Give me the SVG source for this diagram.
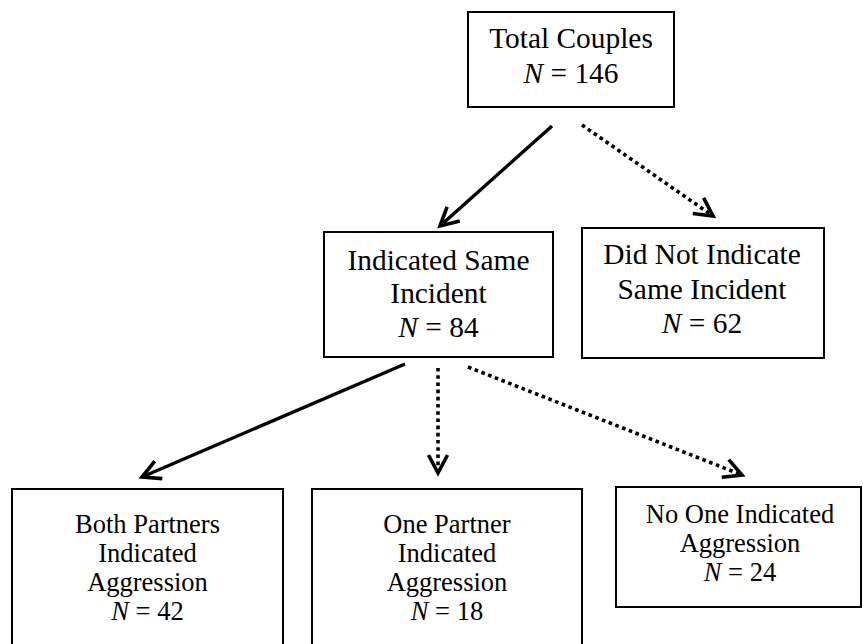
<svg xmlns="http://www.w3.org/2000/svg" width="863" height="644" viewBox="0 0 863 644">
<style>
.box{fill:#fff;stroke:#000;stroke-width:2}
.t{font-family:"Liberation Serif","Times New Roman",serif;font-size:29.4px;fill:#000;text-anchor:middle}
.b{font-family:"Liberation Serif","Times New Roman",serif;font-size:26.5px;fill:#000;text-anchor:middle}
.solid{fill:none;stroke:#000;stroke-width:3.4}
.dot{fill:none;stroke:#000;stroke-width:3.6;stroke-dasharray:3.6 3.6}
</style>
<defs>
<marker id="ah" markerUnits="userSpaceOnUse" viewBox="-22 -13 26 26" refX="0" refY="0" markerWidth="26" markerHeight="26" orient="auto" overflow="visible">
<path d="M-18,-9.5 L0,0 L-18,9.5" fill="none" stroke="#000" stroke-width="3.6" stroke-dasharray="none" stroke-linejoin="miter"/>
</marker>
</defs>
<rect width="863" height="644" fill="#fff"/>
<g id="connectors">
<line class="solid" x1="552" y1="126" x2="440" y2="226" marker-end="url(#ah)"/>
<line class="dot" x1="582" y1="125" x2="713" y2="216" marker-end="url(#ah)"/>
<line class="solid" x1="405" y1="364" x2="142" y2="477" marker-end="url(#ah)"/>
<line class="dot" x1="438" y1="368" x2="438" y2="473" marker-end="url(#ah)"/>
<line class="dot" x1="468" y1="367" x2="742" y2="475" marker-end="url(#ah)"/>
</g>
<g id="total">
<rect class="box" x="468" y="12" width="206" height="95"/>
<text class="t" x="571" y="48">Total Couples</text>
<text class="t" x="571" y="83"><tspan font-style="italic">N</tspan> = 146</text>
</g>
<g id="same">
<rect class="box" x="324" y="232" width="229" height="125"/>
<text class="t" x="438.5" y="270">Indicated Same</text>
<text class="t" x="438.5" y="303">Incident</text>
<text class="t" x="438.5" y="337"><tspan font-style="italic">N</tspan> = 84</text>
</g>
<g id="notsame">
<rect class="box" x="582" y="228" width="242" height="130"/>
<text class="t" x="702" y="264">Did Not Indicate</text>
<text class="t" x="702" y="299">Same Incident</text>
<text class="t" x="702" y="333"><tspan font-style="italic">N</tspan> = 62</text>
</g>
<g id="both">
<rect class="box" x="12" y="489" width="271" height="160"/>
<text class="b" x="147.5" y="533">Both Partners</text>
<text class="b" x="147.5" y="562">Indicated</text>
<text class="b" x="147.5" y="591">Aggression</text>
<text class="b" x="147.5" y="620"><tspan font-style="italic">N</tspan> = 42</text>
</g>
<g id="one">
<rect class="box" x="312" y="489" width="270" height="160"/>
<text class="b" x="447" y="533">One Partner</text>
<text class="b" x="447" y="562">Indicated</text>
<text class="b" x="447" y="591">Aggression</text>
<text class="b" x="447" y="620"><tspan font-style="italic">N</tspan> = 18</text>
</g>
<g id="noone">
<rect class="box" x="616" y="487" width="245" height="120"/>
<text class="b" x="740" y="523">No One Indicated</text>
<text class="b" x="740" y="552">Aggression</text>
<text class="b" x="740" y="581"><tspan font-style="italic">N</tspan> = 24</text>
</g>
</svg>
